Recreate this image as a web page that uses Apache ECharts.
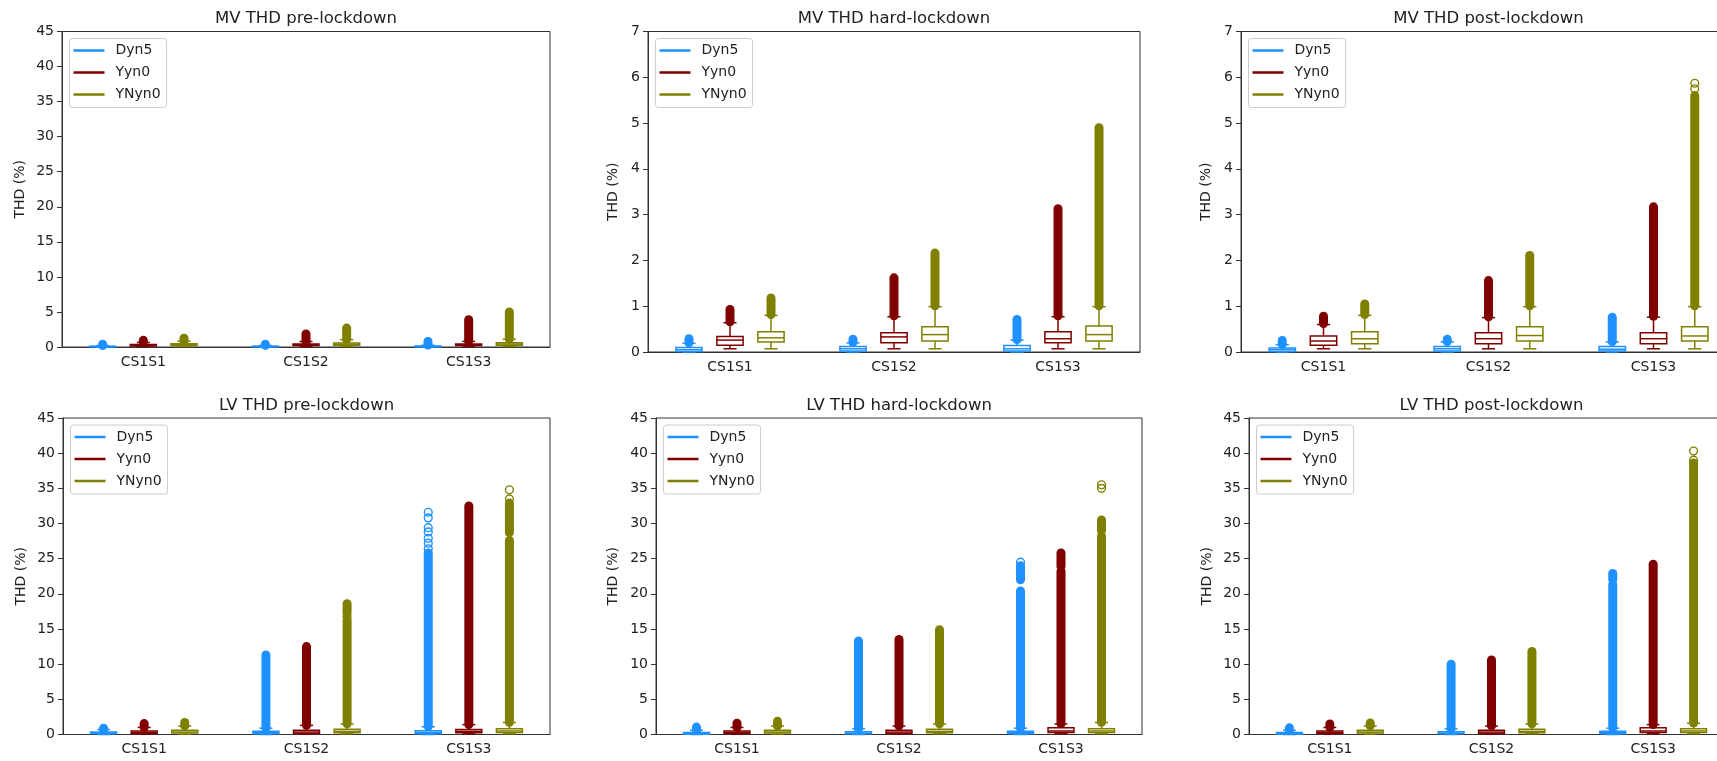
<!DOCTYPE html>
<html><head><meta charset="utf-8">
<script src="https://cdn.jsdelivr.net/npm/echarts@6/dist/echarts.min.js"></script>
<style>html,body{margin:0;padding:0;background:#fff}#c{width:1717px;height:761px}</style>
</head><body><div id="c"></div>
<script>
// ---------- data ----------
const categories = ['CS1S1', 'CS1S2', 'CS1S3'];
const seriesNames = ['Dyn5', 'Yyn0', 'YNyn0'];
const seriesColors = ['#1e90ff', '#800000', '#808000'];
const panelTitles = ['MV THD pre-lockdown', 'MV THD hard-lockdown', 'MV THD post-lockdown',
                     'LV THD pre-lockdown', 'LV THD hard-lockdown', 'LV THD post-lockdown'];
const yMax = [45, 7, 7, 45, 45, 45];
const yStep = [5, 1, 1, 5, 5, 5];
const yLabel = 'THD (%)';

// box stats per series (Dyn5, Yyn0, YNyn0) per category: [low whisker, Q1, median, Q3, high whisker]
// fliers: dense outlier ranges [from, to]; points: isolated outliers
const mvPreBoxes = [
  [[0.0, 0.02, 0.06, 0.11, 0.2], [0.0, 0.02, 0.07, 0.12, 0.22], [0.0, 0.02, 0.07, 0.14, 0.26]],
  [[0.07, 0.15, 0.26, 0.36, 0.65], [0.07, 0.2, 0.32, 0.42, 0.78], [0.07, 0.2, 0.3, 0.44, 0.8]],
  [[0.07, 0.22, 0.33, 0.46, 0.82], [0.07, 0.25, 0.4, 0.58, 1.05], [0.07, 0.26, 0.42, 0.6, 1.1]]
];
const mvPreFliers = [
  [[[0.21, 0.4]], [[0.23, 0.4]], [[0.27, 0.8]]],
  [[[0.67, 0.95]], [[0.8, 1.85]], [[0.82, 3.9]]],
  [[[0.84, 1.25]], [[1.07, 2.7]], [[1.12, 5.0]]]
];
const mvPrePoints = [[[], [], []], [[], [], []], [[], [], []]];

const mvHardBoxes = [
  [[0.0, 0.01, 0.05, 0.1, 0.19], [0.0, 0.02, 0.07, 0.12, 0.2], [0.0, 0.02, 0.07, 0.14, 0.26]],
  [[0.07, 0.15, 0.26, 0.34, 0.64], [0.07, 0.2, 0.33, 0.42, 0.77], [0.07, 0.2, 0.29, 0.44, 0.77]],
  [[0.07, 0.22, 0.31, 0.44, 0.8], [0.07, 0.24, 0.38, 0.55, 0.99], [0.07, 0.24, 0.38, 0.57, 0.99]]
];
const mvHardFliers = [
  [[[0.2, 0.29]], [[0.21, 0.28]], [[0.27, 0.71]]],
  [[[0.66, 0.93]], [[0.79, 1.62]], [[0.79, 3.13]]],
  [[[0.82, 1.18]], [[1.01, 2.16]], [[1.01, 4.9]]]
];
const mvHardPoints = [[[], [], []], [[], [], []], [[], [], []]];

const mvPostBoxes = [
  [[0.0, 0.01, 0.05, 0.09, 0.16], [0.0, 0.02, 0.07, 0.12, 0.22], [0.0, 0.02, 0.06, 0.12, 0.22]],
  [[0.07, 0.15, 0.24, 0.35, 0.6], [0.07, 0.18, 0.29, 0.42, 0.75], [0.07, 0.18, 0.29, 0.42, 0.76]],
  [[0.07, 0.18, 0.29, 0.44, 0.8], [0.07, 0.24, 0.36, 0.55, 0.99], [0.07, 0.24, 0.35, 0.55, 0.99]]
];
const mvPostFliers = [
  [[[0.17, 0.25]], [[0.23, 0.28]], [[0.23, 0.76]]],
  [[[0.62, 0.78]], [[0.77, 1.56]], [[0.78, 3.17]]],
  [[[0.82, 1.05]], [[1.01, 2.11]], [[1.01, 5.6]]]
];
const mvPostPoints = [[[], [], []], [[], [], []], [[], [], [5.75, 5.87]]];

const lvPreBoxes = [
  [[0.0, 0.1, 0.2, 0.35, 0.7], [0.0, 0.1, 0.25, 0.45, 0.9], [0.0, 0.1, 0.3, 0.55, 1.1]],
  [[0.05, 0.15, 0.3, 0.5, 1.0], [0.05, 0.15, 0.35, 0.6, 1.3], [0.1, 0.25, 0.45, 0.7, 1.4]],
  [[0.05, 0.2, 0.35, 0.6, 1.2], [0.1, 0.25, 0.45, 0.75, 1.5], [0.1, 0.3, 0.5, 0.8, 1.7]]
];
const lvPreFliers = [
  [[[0.72, 0.9]], [[0.92, 11.3]], [[1.12, 25.8]]],
  [[[1.02, 1.55]], [[1.32, 12.5]], [[1.42, 32.5]]],
  [[[1.22, 1.7]], [[1.52, 16.2], [17.2, 18.6]], [[1.72, 27.6], [28.7, 32.9]]]
];
const lvPrePoints = [
  [[], [], [26.4, 27.2, 27.9, 28.8, 29.4, 30.8, 31.6]],
  [[], [], []],
  [[], [16.7], [33.5, 34.8]]
];

const lvHardBoxes = [
  [[0.0, 0.05, 0.15, 0.3, 0.6], [0.0, 0.1, 0.2, 0.4, 0.8], [0.0, 0.1, 0.25, 0.45, 0.9]],
  [[0.05, 0.15, 0.3, 0.5, 1.0], [0.05, 0.15, 0.35, 0.6, 1.2], [0.1, 0.3, 0.5, 0.95, 1.5]],
  [[0.05, 0.2, 0.35, 0.6, 1.2], [0.1, 0.25, 0.45, 0.75, 1.5], [0.1, 0.3, 0.5, 0.8, 1.7]]
];
const lvHardFliers = [
  [[[0.62, 1.05]], [[0.82, 13.3]], [[0.92, 20.4], [22.0, 24.0]]],
  [[[1.02, 1.6]], [[1.22, 13.5]], [[1.52, 23.2], [23.9, 25.8]]],
  [[[1.22, 1.9]], [[1.52, 14.9]], [[1.72, 28.2], [29.0, 30.5]]]
];
const lvHardPoints = [
  [[], [], [24.5]],
  [[], [], []],
  [[], [], [35.0, 35.5]]
];

const lvPostBoxes = [
  [[0.0, 0.05, 0.15, 0.3, 0.6], [0.0, 0.1, 0.2, 0.4, 0.8], [0.0, 0.1, 0.25, 0.45, 0.9]],
  [[0.05, 0.15, 0.3, 0.5, 1.0], [0.05, 0.15, 0.35, 0.6, 1.2], [0.1, 0.3, 0.5, 0.95, 1.4]],
  [[0.05, 0.2, 0.35, 0.6, 1.2], [0.1, 0.25, 0.45, 0.75, 1.5], [0.1, 0.3, 0.5, 0.8, 1.6]]
];
const lvPostFliers = [
  [[[0.62, 0.95]], [[0.82, 10.0]], [[0.92, 21.3], [22.0, 22.9]]],
  [[[1.02, 1.5]], [[1.22, 10.6]], [[1.42, 24.2]]],
  [[[1.22, 1.65]], [[1.52, 11.8]], [[1.62, 38.6]]]
];
const lvPostPoints = [
  [[], [], []],
  [[], [], []],
  [[], [], [39.0, 40.3]]
];

// ---------- layout ----------
const FONT = 'DejaVu Sans';
const gridRects = [
  [62, 31.5, 488, 315.5],
  [648, 31.5, 492, 320.5],
  [1241, 31.5, 495, 320.5],
  [63, 418, 487, 316.5],
  [656, 418, 486, 316.5],
  [1249, 418, 485, 316.5]
];
const nameGaps = [35, 28, 28, 35, 36, 35];
const titleTops = [10, 10, 10, 397, 397, 397];

const panels = [
  { boxes: mvPreBoxes, fliers: mvPreFliers, points: mvPrePoints },
  { boxes: mvHardBoxes, fliers: mvHardFliers, points: mvHardPoints },
  { boxes: mvPostBoxes, fliers: mvPostFliers, points: mvPostPoints },
  { boxes: lvPreBoxes, fliers: lvPreFliers, points: lvPrePoints },
  { boxes: lvHardBoxes, fliers: lvHardFliers, points: lvHardPoints },
  { boxes: lvPostBoxes, fliers: lvPostFliers, points: lvPostPoints }
];

function makeRender(panel, s) {
  return function (params, api) {
    const ci = api.value(0);
    const band = api.coord([1, 0])[0] - api.coord([0, 0])[0];
    const cx = api.coord([ci, 0])[0] + (s - 1) * 0.25 * band;
    const bw = band * 0.16;
    const cw = bw / 2;
    const Y = v => api.coord([ci, v])[1];
    const col = seriesColors[s];
    const st = { stroke: col, lineWidth: 1.5, fill: null };
    const lowW = api.value(1), q1 = api.value(2), med = api.value(3), q3 = api.value(4), hiW = api.value(5);
    const ch = [];
    panel.fliers[s][ci].forEach(r => {
      ch.push({ type: 'line', shape: { x1: cx, y1: Y(r[0]), x2: cx, y2: Y(r[1]) },
        style: { stroke: col, lineWidth: 9, lineCap: 'round' } });
    });
    panel.points[s][ci].forEach(v => {
      ch.push({ type: 'circle', shape: { cx: cx, cy: Y(v), r: 3.9 },
        style: { stroke: col, lineWidth: 1.4, fill: null } });
    });
    ch.push({ type: 'rect', shape: { x: cx - bw / 2, y: Y(q3), width: bw, height: Y(q1) - Y(q3) }, style: st });
    ch.push({ type: 'line', shape: { x1: cx - bw / 2, y1: Y(med), x2: cx + bw / 2, y2: Y(med) }, style: st });
    ch.push({ type: 'line', shape: { x1: cx, y1: Y(q1), x2: cx, y2: Y(lowW) }, style: st });
    ch.push({ type: 'line', shape: { x1: cx, y1: Y(q3), x2: cx, y2: Y(hiW) }, style: st });
    ch.push({ type: 'line', shape: { x1: cx - cw / 2, y1: Y(lowW), x2: cx + cw / 2, y2: Y(lowW) }, style: st });
    ch.push({ type: 'line', shape: { x1: cx - cw / 2, y1: Y(hiW), x2: cx + cw / 2, y2: Y(hiW) }, style: st });
    return { type: 'group', children: ch };
  };
}

const series = [];
panels.forEach((p, pi) => {
  seriesNames.forEach((name, si) => {
    series.push({
      type: 'custom', name: name, coordinateSystem: 'cartesian2d',
      xAxisIndex: pi, yAxisIndex: pi,
      itemStyle: { color: seriesColors[si] },
      data: categories.map((c, ci) => [ci].concat(p.boxes[si][ci])),
      encode: { x: 0, y: [1, 2, 3, 4, 5] },
      clip: false, silent: true,
      renderItem: makeRender(p, si)
    });
  });
});

const option = {
  animation: false,
  backgroundColor: '#fff',
  title: panelTitles.map((t, i) => ({
    text: t, left: gridRects[i][0] + gridRects[i][2] / 2, top: titleTops[i],
    textAlign: 'center', padding: 0,
    textStyle: { fontFamily: FONT, fontSize: 16.5, fontWeight: 'normal', color: '#222' }
  })),
  legend: gridRects.map(g => ({
    data: seriesNames, orient: 'vertical', left: g[0] + 7.5, top: g[1] + 7,
    padding: [4, 6, 5, 4], itemWidth: 31, itemHeight: 2.5, itemGap: 6, icon: 'rect',
    backgroundColor: 'rgba(255,255,255,0.8)', borderColor: '#cccccc', borderWidth: 1, borderRadius: 3,
    selectedMode: false,
    textStyle: { fontFamily: FONT, fontSize: 14, color: '#222', lineHeight: 16, padding: [0, 0, 0, 6] }
  })),
  grid: gridRects.map(g => ({
    left: g[0], top: g[1], width: g[2], height: g[3], show: true,
    borderColor: '#333', borderWidth: 1, backgroundColor: 'transparent',
    containLabel: false, outerBoundsMode: 'none'
  })),
  xAxis: gridRects.map((g, i) => ({
    type: 'category', gridIndex: i, data: categories, boundaryGap: true,
    axisLine: { lineStyle: { color: '#333', width: 1 } },
    axisTick: { alignWithLabel: true, length: 5, lineStyle: { color: '#333' } },
    axisLabel: { margin: 8, fontFamily: FONT, fontSize: 14, color: '#222' },
    splitLine: { show: false }
  })),
  yAxis: gridRects.map((g, i) => ({
    type: 'value', gridIndex: i, min: 0, max: yMax[i], interval: yStep[i],
    name: yLabel, nameLocation: 'middle', nameGap: nameGaps[i],
    nameTextStyle: { fontFamily: FONT, fontSize: 14, color: '#222' },
    axisLine: { show: true, lineStyle: { color: '#333', width: 1 } },
    axisTick: { show: true, length: 5, lineStyle: { color: '#333' } },
    axisLabel: { margin: 8, fontFamily: FONT, fontSize: 14, color: '#222' },
    splitLine: { show: false }
  })),
  series: series
};

const chart = echarts.init(document.getElementById('c'), null, { renderer: 'canvas' });
chart.setOption(option);
</script>
</body></html>
